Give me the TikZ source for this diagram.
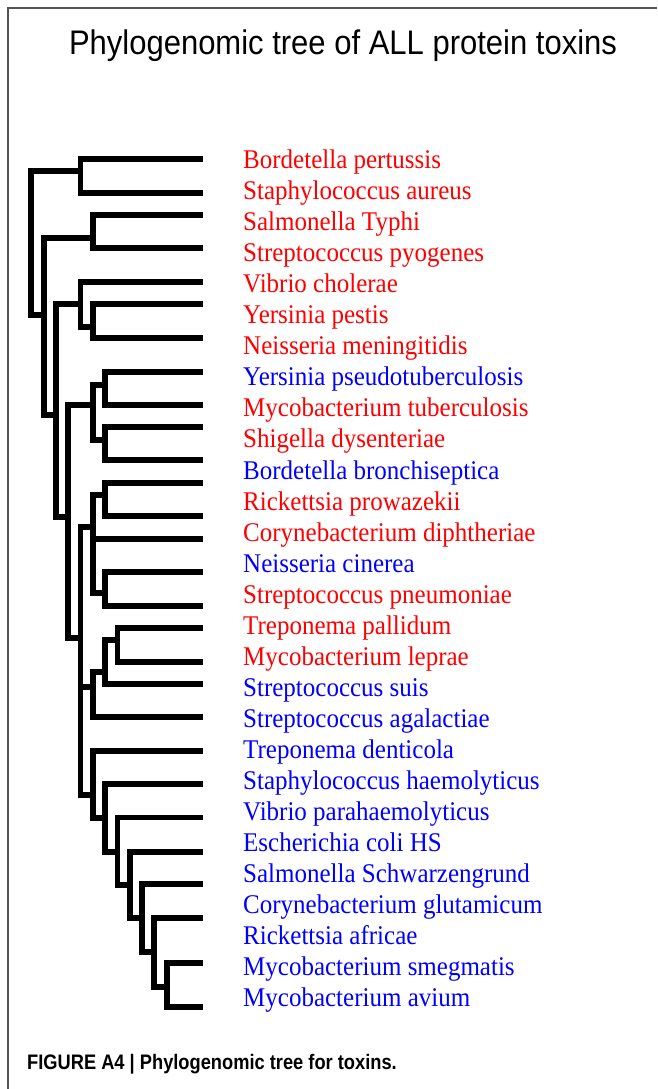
\documentclass[tikz,border=0pt]{standalone}
\usepackage{fontspec}
\usepackage{graphicx}
\setmainfont{Liberation Serif}
\newfontfamily\titlefont{Liberation Sans}
\newfontfamily\capfont{Liberation Sans}
\definecolor{lred}{HTML}{FF0000}
\definecolor{lblue}{HTML}{0000FF}
\definecolor{framegray}{HTML}{555555}
\begin{document}
\begin{tikzpicture}[x=1pt,y=-1pt,
  br/.style={line width=5.8pt, line join=miter, line cap=butt},
  lab/.style={anchor=base west, inner sep=0pt, font=\fontsize{25}{25}\selectfont},
  frameline/.style={draw=framegray, line width=1.2pt}]
\useasboundingbox (0,0) rectangle (657,1089);
\fill[white] (0,0) rectangle (657,1089);
\coordinate (fa) at (657,8);
\coordinate (fb) at (8,8);
\coordinate (fc) at (8,1089);
\draw[frameline] (fa) -- (fb) -- (fc);
% title and caption
\node[anchor=base, inner sep=0pt, font=\titlefont\fontsize{31}{31}\selectfont] (title) at (343,55) {\scalebox{1}[1.1]{Phylogenomic tree of ALL protein toxins}};
\node[anchor=base west, inner sep=0pt, font=\capfont\bfseries\fontsize{21}{21}\selectfont] (caption) at (27,1069) {\scalebox{0.87}[1]{FIGURE A4 | Phylogenomic tree for toxins.}};
% x levels
\def\La{31.3}\def\Lb{43.6}\def\Lc{55.9}\def\Ld{68.2}\def\Le{80.5}\def\Lf{92.8}
\def\Lg{105.1}\def\Lh{117.4}\def\Li{129.7}\def\Lj{142}\def\Lk{154.3}\def\Ll{166.6}
% leaves
\foreach \i/\y in {1/159,2/192.7,3/215,4/248,5/282,6/304,7/338,8/372,9/405,10/427,11/460,12/483,13/516,14/539,15/572,16/606,17/628,18/662,19/684,20/717,21/751,22/784,23/817.5,24/852,25/884,26/918,27/963,28/1007}
  \coordinate (l\i) at (203,\y);
% internal nodes
\coordinate (r) at (\La,243);
\coordinate (c12) at (\Le,170.7);
\coordinate (a1) at (\Lb,315);
\coordinate (c34) at (\Lf,237.7);
\coordinate (a2) at (\Lc,415);
\coordinate (c567) at (\Le,304.3);
\coordinate (c67) at (\Lf,326.7);
\coordinate (a3) at (\Ld,516.7);
\coordinate (c811) at (\Lf,405);
\coordinate (c89) at (\Lg,385);
\coordinate (c1011) at (\Lg,440);
\coordinate (a4) at (\Le,638);
\coordinate (c1216) at (\Lf,527);
\coordinate (c1213) at (\Lg,495);
\coordinate (c1516) at (\Lg,593);
\coordinate (c1720) at (\Lf,687);
\coordinate (c1719) at (\Lg,672);
\coordinate (c1718) at (\Lh,640);
\coordinate (c2128) at (\Lf,795);
\coordinate (d6) at (\Lg,818);
\coordinate (d7) at (\Lh,852);
\coordinate (d8) at (\Li,885);
\coordinate (d9) at (\Lj,918);
\coordinate (d10) at (\Lk,952);
\coordinate (d11) at (\Ll,987);
% branches
\foreach \p/\c in {r/c12, r/a1, c12/l1, c12/l2, a1/c34, a1/a2, c34/l3, c34/l4,
  a2/c567, a2/a3, c567/l5, c567/c67, c67/l6, c67/l7,
  a3/c811, a3/a4, c811/c89, c811/c1011, c89/l8, c89/l9, c1011/l10, c1011/l11,
  a4/c1216, a4/c1720, a4/c2128, c1216/c1213, c1216/l14, c1216/c1516,
  c1213/l12, c1213/l13, c1516/l15, c1516/l16,
  c1720/c1719, c1720/l20, c1719/c1718, c1719/l19, c1718/l17, c1718/l18,
  c2128/l21, c2128/d6, d6/l22, d6/d7, d7/l23, d7/d8, d8/l24, d8/d9,
  d9/l25, d9/d10, d10/l26, d10/d11, d11/l27, d11/l28}
  \draw[br] (\p) |- (\c);
% labels
\foreach \i/\txt/\col in {1/Bordetella pertussis/lred, 2/Staphylococcus aureus/lred,
  3/Salmonella Typhi/lred, 4/Streptococcus pyogenes/lred, 5/Vibrio cholerae/lred,
  6/Yersinia pestis/lred, 7/Neisseria meningitidis/lred,
  8/Yersinia pseudotuberculosis/lblue, 9/Mycobacterium tuberculosis/lred,
  10/Shigella dysenteriae/lred, 11/Bordetella bronchiseptica/lblue,
  12/Rickettsia prowazekii/lred, 13/Corynebacterium diphtheriae/lred,
  14/Neisseria cinerea/lblue, 15/Streptococcus pneumoniae/lred,
  16/Treponema pallidum/lred, 17/Mycobacterium leprae/lred,
  18/Streptococcus suis/lblue, 19/Streptococcus agalactiae/lblue,
  20/Treponema denticola/lblue, 21/Staphylococcus haemolyticus/lblue,
  22/Vibrio parahaemolyticus/lblue, 23/Escherichia coli HS/lblue,
  24/Salmonella Schwarzengrund/lblue, 25/Corynebacterium glutamicum/lblue,
  26/Rickettsia africae/lblue, 27/Mycobacterium smegmatis/lblue,
  28/Mycobacterium avium/lblue}
  \node[lab, text=\col] (t\i) at (243,{168.5+31.05*(\i-1)}) {\scalebox{1}[1.08]{\txt}};
\end{tikzpicture}
\end{document}
